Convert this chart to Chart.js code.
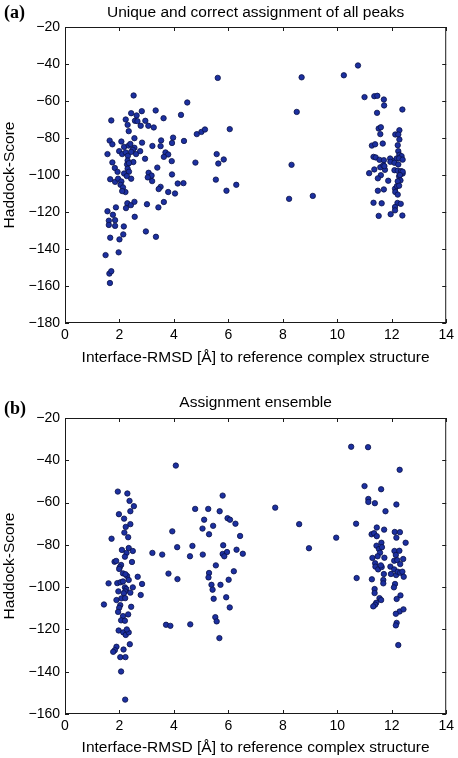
<!DOCTYPE html>
<html>
<head>
<meta charset="utf-8">
<script src="https://cdn.jsdelivr.net/npm/chart.js@4/dist/chart.umd.min.js"></script>
<style>
  html, body { margin: 0; padding: 0; background: #fff; }
  .wrap { position: relative; width: 458px; height: 379px; }
  canvas { display: block; }
</style>
</head>
<body>
<div class="wrap"><canvas id="ca" width="458" height="379"></canvas></div>
<div class="wrap"><canvas id="cb" width="458" height="379"></canvas></div>
<script>
// ---------- DATA ----------
const panelLabels = ["(a)", "(b)"];
const panelTitles = ["Unique and correct assignment of all peaks", "Assignment ensemble"];
const xAxisTitle = "Interface-RMSD [Å] to reference complex structure";
const yAxisTitle = "Haddock-Score";
const xTicks = [0, 2, 4, 6, 8, 10, 12, 14];
const yTicksA = [-180, -160, -140, -120, -100, -80, -60, -40, -20];
const yTicksB = [-160, -140, -120, -100, -80, -60, -40, -20];

// Panel (a): [RMSD, score]
const pointsA = [
 [2.52,-57.0],[3.33,-65.1],[3.62,-69.3],[2.43,-66.6],[2.82,-65.5],[2.63,-67.8],[2.57,-70.7],[2.66,-70.9],[1.70,-70.5],[2.23,-70.0],
 [2.95,-70.7],[3.06,-73.4],[3.26,-74.3],[2.78,-73.4],[2.30,-72.9],[2.34,-76.3],[2.55,-80.1],[1.64,-81.4],[1.74,-83.4],[2.07,-81.9],
 [2.83,-82.5],[3.21,-84.3],[3.53,-81.3],[3.51,-84.4],[3.97,-79.8],[3.93,-82.7],[2.17,-84.8],[2.34,-84.1],[2.40,-83.2],[2.55,-85.3],
 [2.49,-86.4],[1.99,-87.1],[2.10,-88.7],[1.56,-88.7],[2.23,-87.8],[2.31,-89.6],[2.43,-87.5],[2.61,-88.7],[2.76,-87.1],[3.69,-87.8],
 [3.79,-88.9],[3.63,-90.2],[3.92,-92.5],[2.94,-91.2],[2.51,-93.0],[1.74,-93.2],[2.30,-92.2],[2.28,-94.3],[2.35,-93.6],[1.83,-96.2],
 [1.93,-98.3],[2.30,-96.6],[2.35,-98.2],[2.17,-99.2],[2.27,-100.6],[2.43,-102.0],[1.66,-102.3],[1.84,-103.7],[1.95,-102.0],[2.07,-103.5],
 [2.04,-105.3],[2.13,-106.7],[2.22,-109.2],[2.10,-108.7],[3.07,-98.8],[3.13,-101.2],[3.18,-100.3],[3.04,-101.3],[3.20,-103.3],[3.39,-96.0],
 [3.51,-106.4],[3.44,-107.6],[3.79,-109.2],[3.93,-99.7],[4.04,-110.0],[2.29,-115.3],[2.42,-116.3],[2.55,-114.5],[2.24,-117.9],[2.56,-122.6],
 [3.01,-115.8],[3.43,-117.5],[3.63,-114.6],[1.87,-117.5],[1.56,-119.6],[1.76,-121.5],[1.61,-124.7],[1.61,-127.0],[1.84,-124.4],[1.84,-127.5],
 [2.16,-127.8],[1.66,-133.9],[2.00,-134.8],[2.14,-132.1],[2.97,-130.5],[3.34,-133.4],[1.49,-143.3],[1.97,-141.8],[1.63,-153.3],[1.70,-152.0],
 [1.65,-158.4],
 [5.61,-47.5],[4.49,-60.8],[4.26,-67.5],[6.05,-75.2],[4.84,-77.9],[5.01,-76.7],[5.14,-75.4],[4.37,-81.6],[5.57,-88.7],[5.83,-91.6],
 [5.63,-93.8],[4.79,-93.3],[4.14,-104.6],[4.35,-104.4],[5.54,-102.5],[5.93,-108.5],[6.29,-105.3],
 [8.69,-47.2],[10.24,-46.1],[10.76,-40.8],[8.51,-65.9],[8.32,-94.5],[8.23,-112.9],[9.10,-111.3],
 [11.00,-57.9],[11.36,-57.4],[11.47,-57.2],[11.71,-59.2],[11.72,-62.4],[12.39,-64.6],[11.46,-66.4],[11.52,-74.9],[11.60,-74.2],[11.58,-77.9],
 [12.28,-75.8],[12.13,-78.1],[12.24,-78.1],[12.28,-80.8],[12.22,-83.9],[11.27,-84.1],[11.39,-83.4],[11.67,-83.0],[12.24,-87.1],[12.28,-89.1],
 [12.36,-89.8],[11.33,-90.2],[11.41,-90.5],[11.55,-91.8],[11.71,-92.0],[11.94,-91.1],[12.08,-92.4],[12.18,-91.1],[12.27,-91.0],[12.40,-91.7],
 [11.58,-95.8],[11.75,-97.2],[11.69,-94.7],[12.10,-97.4],[12.22,-97.7],[12.34,-97.9],[12.40,-99.2],[12.27,-100.7],[12.32,-102.9],[12.22,-103.4],
 [11.36,-97.0],[11.17,-99.0],[11.60,-100.1],[11.87,-103.1],[12.12,-107.4],[12.19,-106.0],[12.27,-105.8],[12.13,-109.2],[12.22,-110.6],[11.49,-108.5],
 [11.71,-107.8],[11.33,-115.0],[11.63,-115.3],[12.21,-115.1],[12.33,-115.6],[12.12,-117.3],[12.12,-119.1],[11.52,-122.1],[11.96,-121.2],[12.39,-121.9],
 [11.95,-92.9],[12.10,-93.4],[12.24,-94.3],[11.49,-101.8],[12.40,-98.2],[12.30,-100.0],[11.73,-95.2]
];

// Panel (b): [RMSD, score]
const pointsB = [
 [1.94,-54.8],[2.29,-55.7],[2.37,-59.2],[2.53,-61.7],[2.40,-64.1],[1.98,-65.5],[2.17,-67.6],[2.40,-70.2],[2.23,-71.5],[2.18,-74.2],
 [2.32,-76.4],[1.71,-77.1],[2.09,-82.4],[2.34,-81.5],[2.49,-82.9],[2.26,-83.8],[2.20,-85.6],[3.21,-83.8],[3.57,-84.6],[3.80,-93.6],
 [1.82,-88.0],[1.88,-87.6],[2.06,-89.5],[2.01,-90.6],[1.99,-91.4],[2.46,-88.1],[2.13,-93.5],[2.28,-94.7],[2.22,-93.9],[2.67,-95.1],
 [2.83,-98.5],[1.60,-98.2],[1.92,-98.1],[2.04,-97.7],[2.13,-97.3],[2.34,-96.6],[2.20,-100.1],[2.25,-100.9],[2.21,-102.0],[2.16,-102.9],
 [2.49,-100.1],[1.96,-102.0],[2.40,-102.6],[2.78,-103.7],[2.07,-105.3],[2.21,-105.2],[1.89,-106.1],[1.43,-108.2],[2.03,-108.5],[1.99,-109.8],
 [1.95,-111.7],[2.43,-109.3],[2.13,-113.7],[2.06,-115.7],[2.20,-115.9],[2.32,-112.9],[3.71,-117.8],[3.87,-118.3],[1.97,-120.5],[2.14,-121.4],
 [2.23,-122.6],[2.34,-121.4],[2.27,-120.0],[2.38,-127.0],[1.89,-128.2],[1.83,-129.8],[1.77,-130.6],[2.15,-129.5],[2.03,-133.1],[2.22,-133.1],
 [2.06,-139.9],[2.21,-153.2],
 [4.07,-42.5],[5.79,-56.7],[4.78,-63.0],[5.26,-63.0],[5.68,-64.1],[5.11,-68.1],[5.97,-67.4],[6.06,-68.1],[6.26,-70.0],[5.05,-72.3],
 [5.44,-71.0],[5.29,-75.0],[6.43,-75.8],[3.94,-73.6],[5.81,-80.2],[4.12,-81.1],[4.68,-80.5],[6.30,-82.3],[6.53,-84.2],[4.59,-85.4],
 [5.06,-84.6],[5.79,-84.3],[5.95,-83.4],[5.85,-85.4],[5.54,-89.7],[6.20,-92.5],[5.29,-93.3],[5.27,-95.4],[6.01,-96.5],[4.13,-96.2],
 [5.38,-98.9],[5.42,-101.2],[5.71,-98.9],[5.46,-105.5],[5.92,-104.8],[6.05,-109.6],[4.60,-117.6],[5.52,-114.2],[5.57,-116.2],[5.67,-124.1],
 [7.72,-62.4],[8.60,-70.2],[9.96,-76.6],[8.96,-81.6],[10.69,-70.0],[10.71,-95.7],
 [10.51,-33.6],[11.13,-33.8],[12.29,-44.5],[11.00,-52.2],[11.61,-53.7],[11.14,-58.3],[11.14,-59.7],[11.38,-60.3],[12.17,-60.9],[11.77,-64.1],
 [11.45,-71.8],[11.72,-72.8],[11.26,-75.0],[11.35,-74.5],[11.45,-75.9],[12.11,-73.9],[12.30,-74.0],[12.17,-76.6],[12.51,-79.0],[11.44,-80.4],
 [11.62,-79.0],[11.53,-82.0],[11.64,-81.1],[11.57,-83.7],[11.73,-86.1],[11.48,-85.4],[11.29,-86.2],[12.10,-82.9],[12.28,-82.8],[12.15,-84.8],
 [12.09,-87.5],[12.20,-87.2],[12.31,-89.1],[12.42,-86.7],[11.39,-88.7],[11.40,-90.3],[11.50,-91.6],[11.63,-90.5],[11.60,-89.7],[11.95,-90.3],
 [12.09,-91.6],[11.97,-93.8],[12.16,-94.3],[12.22,-92.7],[12.31,-93.2],[12.39,-92.7],[12.44,-95.1],[11.71,-93.8],[11.27,-96.3],[11.69,-96.6],
 [11.69,-98.2],[12.12,-98.5],[12.08,-100.1],[11.37,-100.9],[11.37,-102.8],[11.43,-107.4],[11.39,-108.3],[11.32,-109.1],[11.55,-105.2],[11.61,-106.1],
 [12.32,-103.9],[12.18,-105.6],[12.29,-111.5],[12.43,-110.5],[12.15,-112.6],[12.18,-116.9],[12.15,-118.1],[12.24,-127.4]
];

// ---------- CHART ----------
const FONT = "'Liberation Sans', Arial, Helvetica, sans-serif";
const fmt = v => (v < 0 ? '\u2212' + Math.abs(v) : String(v));

function framePlugin(label, title, titleY, labelY) {
  return {
    id: 'frame',
    afterDraw(chart) {
      const {ctx, chartArea: a, scales} = chart;
      ctx.save();
      ctx.strokeStyle = '#1a1a1a';
      ctx.lineWidth = 1;
      ctx.strokeRect(a.left + 0.5, a.top + 0.5, a.right - a.left - 1, a.bottom - a.top - 1);
      const L = 4;
      ctx.beginPath();
      scales.x.ticks.forEach(t => {
        const px = Math.round(scales.x.getPixelForValue(t.value)) + 0.5;
        ctx.moveTo(px, a.bottom); ctx.lineTo(px, a.bottom - L);
        ctx.moveTo(px, a.top); ctx.lineTo(px, a.top + L);
      });
      scales.y.ticks.forEach(t => {
        const py = Math.round(scales.y.getPixelForValue(t.value)) + 0.5;
        ctx.moveTo(a.left, py); ctx.lineTo(a.left + L, py);
        ctx.moveTo(a.right, py); ctx.lineTo(a.right - L, py);
      });
      ctx.stroke();
      // title
      ctx.fillStyle = '#000';
      ctx.textBaseline = 'middle';
      ctx.textAlign = 'center';
      ctx.font = "15.5px " + FONT;
      ctx.fillText(title, (a.left + a.right) / 2, titleY);
      ctx.textAlign = 'left';
      ctx.font = "bold 18px 'Liberation Serif', 'Times New Roman', serif";
      ctx.fillText(label, 4, labelY);
      ctx.restore();
    }
  };
}

function makeChart(id, pts, yTicks, cfg) {
  const ctx = document.getElementById(id);
  return new Chart(ctx, {
    type: 'scatter',
    data: {
      datasets: [{
        data: pts.map(p => ({x: p[0], y: p[1]})),
        backgroundColor: '#1c30a0',
        borderColor: '#0a1248',
        borderWidth: 0.8,
        pointRadius: 2.7,
        pointHoverRadius: 2.7
      }]
    },
    options: {
      responsive: false,
      animation: false,
      devicePixelRatio: 1,
      layout: { padding: { top: cfg.padTop, right: 10, left: 0, bottom: 0 } },
      plugins: { legend: { display: false }, tooltip: { enabled: false }, title: { display: false } },
      scales: {
        x: {
          type: 'linear',
          min: xTicks[0], max: xTicks[xTicks.length - 1],
          afterBuildTicks: s => { s.ticks = xTicks.map(v => ({value: v})); },
          afterFit: s => { s.height = cfg.xHeight; },
          grid: { display: false, drawTicks: false },
          border: { display: false },
          ticks: { color: '#000', font: { family: FONT, size: 14 }, padding: cfg.xTickPad, maxRotation: 0, callback: v => fmt(v) },
          title: { display: true, text: xAxisTitle, color: '#000', font: { family: FONT, size: 15.5 }, padding: { top: 0, bottom: cfg.xTitlePad } }
        },
        y: {
          type: 'linear',
          min: yTicks[0], max: yTicks[yTicks.length - 1],
          afterBuildTicks: s => { s.ticks = yTicks.map(v => ({value: v})); },
          afterFit: s => { s.width = 65; },
          grid: { display: false, drawTicks: false },
          border: { display: false },
          ticks: { color: '#000', font: { family: FONT, size: 14 }, padding: 5, callback: v => fmt(v) },
          title: { display: true, text: yAxisTitle, color: '#000', font: { family: FONT, size: 15.5 }, padding: { top: 0, bottom: 0 } }
        }
      }
    },
    plugins: [framePlugin(cfg.label, cfg.title, cfg.titleY, cfg.labelY)]
  });
}

makeChart('ca', pointsA, yTicksA, { padTop: 27, xHeight: 56, xTickPad: 4, xTitlePad: 12, label: panelLabels[0], title: panelTitles[0], titleY: 13, labelY: 13 });
makeChart('cb', pointsB, yTicksB, { padTop: 39, xHeight: 44, xTickPad: 4, xTitlePad: 1, label: panelLabels[1], title: panelTitles[1], titleY: 24, labelY: 30 });
</script>
</body>
</html>
